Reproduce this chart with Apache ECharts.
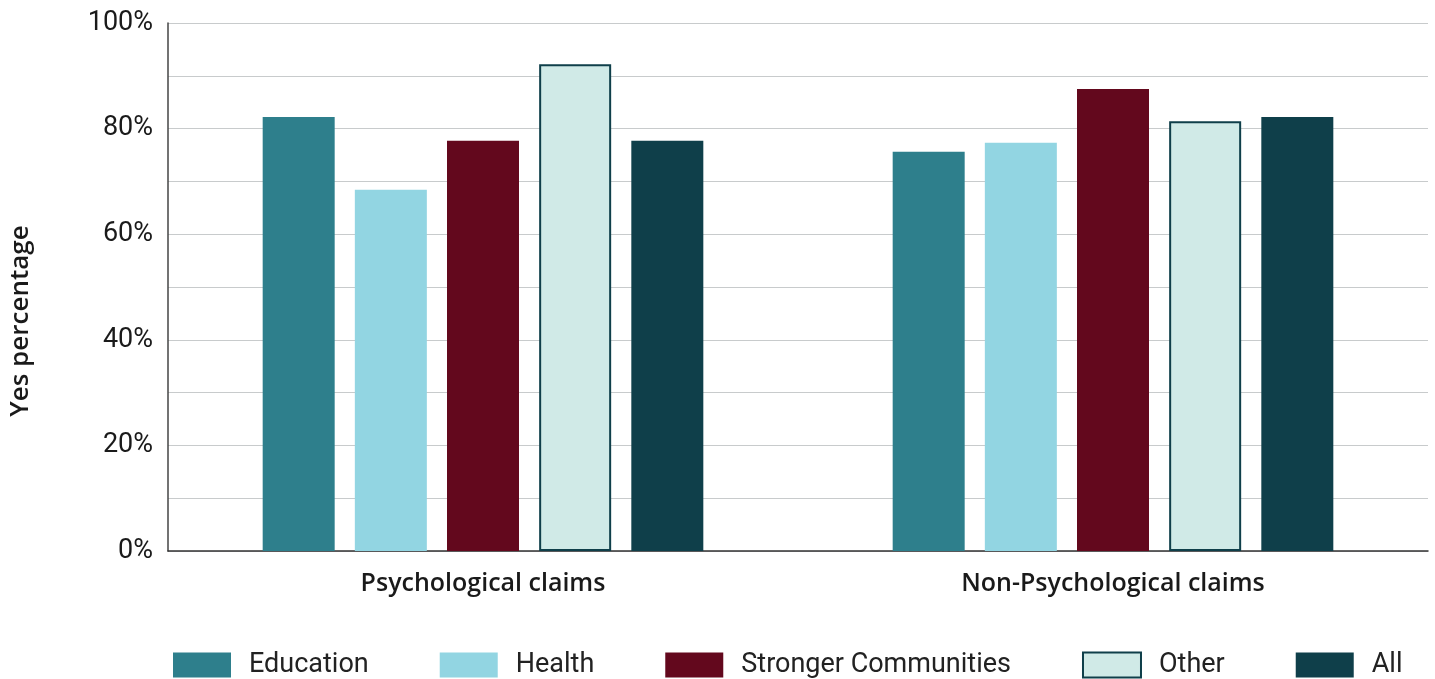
<!DOCTYPE html>
<html><head><meta charset="utf-8">
<script src="https://cdn.jsdelivr.net/npm/echarts@6/dist/echarts.min.js"></script>
<style>html,body{margin:0;padding:0;background:#fff}#c{width:1435px;height:679px}</style>
</head><body><div id="c"></div>
<script>
const categories = ['Psychological claims', 'Non-Psychological claims'];
const seriesNames = ['Education', 'Health', 'Stronger Communities', 'Other', 'All'];
const education = [82.2, 75.6];
const health = [68.4, 77.3];
const stronger = [77.7, 87.5];
const other = [92.2, 81.4];
const all = [77.7, 82.2];
const yTicks = [0, 20, 40, 60, 80, 100];

const values = [education, health, stronger, other, all];
const colors = ['#2e7f8c', '#92d5e2', '#63081d', '#d0eae7', '#0f3f4a'];
const font = 'Roboto, "Noto Sans", sans-serif';
const boldFont = '"Open Sans", Roboto, sans-serif';

const chart = echarts.init(document.getElementById('c'), null, {renderer: 'canvas'});
chart.setOption({
  animation: false,
  grid: {left: 166, right: 7, top: 23, bottom: 128, containLabel: false},
  legend: {
    top: 648, left: 173, padding: 0, itemWidth: 58, itemHeight: 25, itemGap: 71,
    textStyle: {fontFamily: font, fontSize: 27, lineHeight: 34, color: '#222', padding: [0, 0, 0, 13]},
    data: seriesNames.map((n, i) => ({name: n, icon: 'rect'}))
  },
  xAxis: {
    type: 'category', data: categories,
    axisLine: {lineStyle: {color: '#333', width: 1.5}},
    axisTick: {show: false},
    axisLabel: {fontFamily: boldFont, fontSize: 25, fontWeight: 600, color: '#1a1a1a', margin: 20}
  },
  yAxis: {
    type: 'value', min: 0, max: 100, interval: 10,
    name: 'Yes percentage', nameLocation: 'middle', nameGap: 134, nameRotate: 90,
    nameTextStyle: {fontFamily: boldFont, fontSize: 26, fontWeight: 600, color: '#1a1a1a', padding: [0, 68, 0, 0]},
    axisLine: {show: true, lineStyle: {color: '#444', width: 1.5}},
    axisTick: {show: false},
    splitLine: {lineStyle: {color: '#c8cbcc', width: 1}},
    axisLabel: {
      fontFamily: font, fontSize: 27, color: '#1a1a1a', margin: 15,
      formatter: v => yTicks.includes(v) ? v + '%' : ''
    }
  },
  series: seriesNames.map((n, i) => ({
    name: n, type: 'bar', data: values[i], barWidth: 72, barGap: '28%',
    itemStyle: i === 3 ? {color: colors[i], borderColor: '#0f3f4a', borderWidth: 2} : {color: colors[i]}
  }))
});
</script></body></html>
